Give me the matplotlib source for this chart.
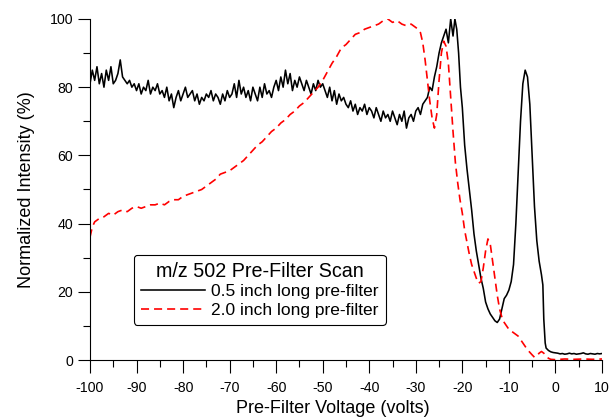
"""
m/z 502 pre-filter scan — normalized intensity vs pre-filter voltage.
"""

import numpy as np
import matplotlib
matplotlib.use("Agg")
import matplotlib.pyplot as plt

# ── Data ─────────────────────────────────────────────
# 0.5 inch pre-filter: noisy part, -100 V .. -28 V every 0.5 V
short_noisy_v = np.arange(-100.0, -27.9, 0.5)
short_noisy_i = [
    81, 85, 82, 86, 81, 84, 80, 85, 82, 86, 81,
    82, 84, 88, 83, 82, 81, 82, 80, 81, 79,
    81, 78, 80, 79, 82, 78, 80, 79, 81, 78,
    79, 77, 80, 76, 78, 74, 77, 79, 76, 78,
    80, 77, 78, 79, 76, 78, 75, 77, 76, 78,
    77, 79, 76, 78, 77, 75, 78, 76, 79, 77,
    78, 81, 77, 82, 78, 80, 77, 79, 76, 80,
    78, 76, 80, 77, 81, 78, 79, 77, 80, 82,
    79, 83, 80, 85, 81, 84, 79, 82, 80, 83,
    81, 79, 82, 80, 78, 81, 79, 82, 80, 81,
    79, 77, 80, 76, 79, 75, 78, 76, 77, 75,
    74, 76, 73, 75, 72, 74, 73, 75, 72, 74,
    73, 71, 74, 72, 70, 73, 71, 72, 70, 73,
    71, 69, 72, 70, 73, 68, 71, 72, 70, 73,
    74, 72, 75, 76,
]
# 0.5 inch pre-filter: peaks and tail
short_peak_v = [-27.5, -27, -26.5, -26, -25.5, -25, -24.5, -24, -23.5, -23,
                -22.5, -22, -21.6, -21.2, -20.8, -20.4, -20, -19.5, -19, -18.5,
                -18, -17.5, -17, -16.5, -16, -15.5, -15, -14.5, -14, -13.5,
                -13, -12.5, -12, -11.5, -11, -10.5, -10, -9.5, -9, -8.5,
                -8, -7.5, -7, -6.5, -6, -5.5, -5, -4.5, -4, -3.5,
                -3, -2.7, -2.5, -2.2, -2, -1.5, -1, -0.5, 0, 0.5,
                1, 1.5, 2, 2.5, 3, 3.5, 4, 4.5, 5, 5.5,
                6, 6.5, 7, 7.5, 8, 8.5, 9, 9.5, 10]
short_peak_i = [77, 80, 79, 83, 86, 90, 93, 95, 97, 93,
                100, 95, 100, 97, 90, 80, 74, 63, 56, 50,
                44, 37, 32, 28, 24, 21, 17, 15, 13.5, 12.5,
                11.5, 11, 12, 15, 18, 19, 20.5, 23, 28, 40,
                55, 70, 81, 85, 83, 75, 60, 45, 35, 29,
                25, 22, 12, 5, 3.5, 2.8, 2.4, 2.2, 2.1, 2.0,
                1.8, 1.9, 1.7, 1.8, 2.0, 1.8, 1.9, 1.7, 1.8, 1.9,
                2.1, 1.8, 1.7, 1.9, 1.8, 1.7, 1.9, 1.8, 1.9]

# 2.0 inch pre-filter
long_v = [-100, -99.5, -99, -98, -97, -96, -95, -94, -93, -92,
          -91, -90, -89, -88, -87, -86, -85, -84, -83, -82,
          -81, -80, -79, -78, -77, -76, -75, -74, -73, -72,
          -71, -70, -69, -68, -67, -66, -65, -64, -63, -62,
          -61, -60, -59, -58, -57, -56, -55, -54, -53, -52,
          -51, -50, -49, -48, -47, -46, -45, -44, -43, -42,
          -41, -40, -39, -38, -37, -36, -35, -34, -33, -32,
          -31, -30, -29.5, -29, -28.5, -28, -27.5, -27, -26.5, -26,
          -25.5, -25, -24.5, -24, -23.5, -23, -22.5, -22, -21.5, -21,
          -20.5, -20, -19.5, -19, -18.5, -18, -17.5, -17, -16.5, -16,
          -15.5, -15, -14.5, -14, -13.5, -13, -12.5, -12, -11.5, -11,
          -10.5, -10, -9, -8, -7, -6, -5, -4.5, -4, -3.5,
          -3, -2.5, -2, -1.5, -1, 0, 2, 4, 6, 8, 10]
long_i = [36, 39, 40.5, 41.5, 42, 43, 42.5, 43.5, 44, 43.5,
          44.5, 45, 44.5, 45, 45.5, 45.5, 46, 45.5, 46.5, 47,
          47, 48, 48.5, 49, 49.5, 50, 51, 52, 53, 54.5,
          55, 55.5, 56.5, 57.5, 58.5, 60, 61.5, 63, 64, 65.5,
          67, 68, 69.5, 70.5, 72, 73, 74.5, 75.5, 77, 78.5,
          80, 82, 84.5, 87, 89, 91.5, 92.5, 94, 95.5, 96,
          97, 97.5, 98, 98.5, 99.5, 100, 99, 99.5, 98.5, 98,
          98.5, 97.5, 97, 96, 93, 88, 82, 76, 71, 68,
          72, 82, 90, 93.5, 92, 87, 77, 67, 58, 52,
          47, 43, 38, 34.5, 31, 28, 26, 24, 22.5, 23,
          27, 32, 35.5, 34, 29, 24, 19, 15, 12.5, 11,
          10, 9, 8, 7, 5, 3, 1.5, 0.8, 1.2, 2,
          2.5, 2, 1.2, 0.5, 0.2, 0.1, 0.3, 0.2, 0.3, 0.2, 0.3]

legend_title = "m/z 502 Pre-Filter Scan"
labels = ["0.5 inch long pre-filter", "2.0 inch long pre-filter"]

# ── Style ────────────────────────────────────────────
plt.rcParams["font.family"] = ["Liberation Sans", "DejaVu Sans"]
plt.rcParams["axes.unicode_minus"] = False
plt.rcParams["lines.scale_dashes"] = False

fig = plt.figure(figsize=(6.13, 4.19), dpi=100)
ax = fig.add_axes([0.1468, 0.1408, 0.8352, 0.8139])

short_v = np.concatenate([short_noisy_v, short_peak_v])
short_i = np.concatenate([short_noisy_i, short_peak_i])

ax.plot(short_v, short_i, color="black", lw=1.15, label=labels[0])
ax.plot(long_v, long_i, color="red", lw=1.2, dashes=(5.8, 3.6), label=labels[1])

ax.set_xlim(-100, 10)
ax.set_ylim(0, 100)
ax.set_xticks(np.arange(-100, 11, 10))
ax.set_xticks(np.arange(-95, 10, 10), minor=True)
ax.set_yticks(np.arange(0, 101, 20))
ax.set_yticks(np.arange(10, 100, 20), minor=True)

for side in ("top", "right"):
    ax.spines[side].set_visible(False)
for side in ("left", "bottom"):
    ax.spines[side].set_linewidth(0.8)

ax.tick_params(which="major", direction="out", length=9, width=0.8, labelsize=10.2)
ax.tick_params(which="minor", direction="out", length=5, width=0.8)
ax.tick_params(axis="x", which="major", pad=6)
ax.tick_params(axis="y", which="major", pad=3)

ax.set_xlabel("Pre-Filter Voltage (volts)", fontsize=13)
ax.xaxis.set_label_coords(0.475, -0.118)
ax.set_ylabel("Normalized Intensity (%)", fontsize=13, labelpad=11)

leg = ax.legend(title=legend_title, loc="lower left", bbox_to_anchor=(0.086, 0.103),
                borderaxespad=0, borderpad=0.4, fontsize=12.5, title_fontsize=14.2,
                handlelength=3.7, handletextpad=0.35, labelspacing=0.2,
                fancybox=True, framealpha=1, edgecolor="black")
leg.get_frame().set_linewidth(0.8)

fig.savefig("out.png", dpi=100)
plt.close(fig)
